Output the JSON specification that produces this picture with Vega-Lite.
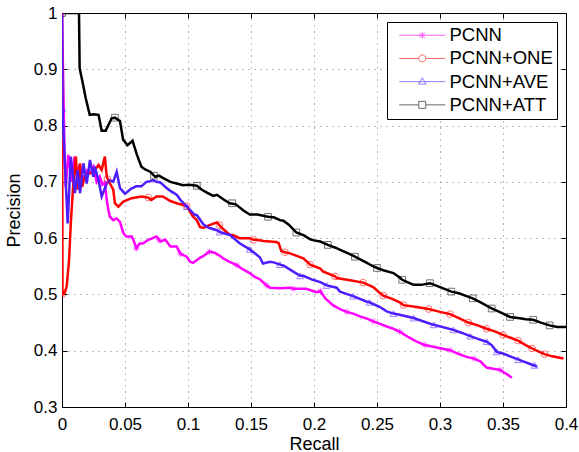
{
  "$schema": "https://vega.github.io/schema/vega-lite/v6.json",
  "width": 504,
  "height": 394,
  "autosize": "none",
  "padding": {"left": 62, "top": 13, "right": 13, "bottom": 45},
  "background": "white",
  "config": {
    "view": {"stroke": "black", "strokeWidth": 1},
    "font": "Liberation Sans",
    "axis": {
      "labelFont": "Liberation Sans",
      "titleFont": "Liberation Sans",
      "labelFontSize": 17,
      "titleFontSize": 18,
      "titleFontWeight": "normal",
      "labelColor": "black",
      "titleColor": "black",
      "domainColor": "black",
      "tickColor": "black",
      "gridColor": "#444",
      "gridOpacity": 0.7,
      "gridDash": [1, 5],
      "gridWidth": 1
    },
    "legend": {
      "orient": "none", "legendX": 325, "legendY": 9,
      "fillColor": "white", "strokeColor": "black", "padding": 4,
      "labelFont": "Liberation Sans", "labelFontSize": 18.5, "labelColor": "black",
      "symbolSize": 64, "symbolStrokeWidth": 1, "symbolOpacity": 0.6,
      "labelOffset": 40, "rowPadding": 4.2, "labelLimit": 300
    }
  },
  "datasets": {
    "pr": [
      {"model": "PCNN", "recall": 0, "precision": 1},
      {"model": "PCNN", "recall": 0.002, "precision": 0.75},
      {"model": "PCNN", "recall": 0.003, "precision": 0.69},
      {"model": "PCNN", "recall": 0.005, "precision": 0.748},
      {"model": "PCNN", "recall": 0.0063, "precision": 0.727},
      {"model": "PCNN", "recall": 0.008, "precision": 0.70},
      {"model": "PCNN", "recall": 0.010, "precision": 0.745},
      {"model": "PCNN", "recall": 0.012, "precision": 0.71},
      {"model": "PCNN", "recall": 0.014, "precision": 0.73},
      {"model": "PCNN", "recall": 0.017, "precision": 0.703},
      {"model": "PCNN", "recall": 0.02, "precision": 0.72},
      {"model": "PCNN", "recall": 0.022, "precision": 0.715},
      {"model": "PCNN", "recall": 0.025, "precision": 0.727},
      {"model": "PCNN", "recall": 0.0275, "precision": 0.70},
      {"model": "PCNN", "recall": 0.030, "precision": 0.709},
      {"model": "PCNN", "recall": 0.032, "precision": 0.695},
      {"model": "PCNN", "recall": 0.034, "precision": 0.698},
      {"model": "PCNN", "recall": 0.0355, "precision": 0.668},
      {"model": "PCNN", "recall": 0.0368, "precision": 0.65},
      {"model": "PCNN", "recall": 0.038, "precision": 0.638},
      {"model": "PCNN", "recall": 0.0407, "precision": 0.632},
      {"model": "PCNN", "recall": 0.0434, "precision": 0.635},
      {"model": "PCNN", "recall": 0.046, "precision": 0.629},
      {"model": "PCNN", "recall": 0.0487, "precision": 0.609},
      {"model": "PCNN", "recall": 0.051, "precision": 0.603},
      {"model": "PCNN", "recall": 0.0553, "precision": 0.603},
      {"model": "PCNN", "recall": 0.0566, "precision": 0.597},
      {"model": "PCNN", "recall": 0.059, "precision": 0.582},
      {"model": "PCNN", "recall": 0.0615, "precision": 0.59},
      {"model": "PCNN", "recall": 0.0645, "precision": 0.591},
      {"model": "PCNN", "recall": 0.0685, "precision": 0.597},
      {"model": "PCNN", "recall": 0.072, "precision": 0.60},
      {"model": "PCNN", "recall": 0.075, "precision": 0.603},
      {"model": "PCNN", "recall": 0.078, "precision": 0.594},
      {"model": "PCNN", "recall": 0.082, "precision": 0.597},
      {"model": "PCNN", "recall": 0.086, "precision": 0.585},
      {"model": "PCNN", "recall": 0.091, "precision": 0.585},
      {"model": "PCNN", "recall": 0.094, "precision": 0.572},
      {"model": "PCNN", "recall": 0.099, "precision": 0.567},
      {"model": "PCNN", "recall": 0.1016, "precision": 0.558},
      {"model": "PCNN", "recall": 0.104, "precision": 0.556},
      {"model": "PCNN", "recall": 0.1095, "precision": 0.565},
      {"model": "PCNN", "recall": 0.112, "precision": 0.568},
      {"model": "PCNN", "recall": 0.117, "precision": 0.576},
      {"model": "PCNN", "recall": 0.121, "precision": 0.574},
      {"model": "PCNN", "recall": 0.125, "precision": 0.569},
      {"model": "PCNN", "recall": 0.128, "precision": 0.564},
      {"model": "PCNN", "recall": 0.133, "precision": 0.558},
      {"model": "PCNN", "recall": 0.1387, "precision": 0.552},
      {"model": "PCNN", "recall": 0.144, "precision": 0.544},
      {"model": "PCNN", "recall": 0.149, "precision": 0.538},
      {"model": "PCNN", "recall": 0.153, "precision": 0.531},
      {"model": "PCNN", "recall": 0.157, "precision": 0.527},
      {"model": "PCNN", "recall": 0.1625, "precision": 0.516},
      {"model": "PCNN", "recall": 0.165, "precision": 0.512},
      {"model": "PCNN", "recall": 0.173, "precision": 0.511},
      {"model": "PCNN", "recall": 0.181, "precision": 0.512},
      {"model": "PCNN", "recall": 0.1836, "precision": 0.510},
      {"model": "PCNN", "recall": 0.194, "precision": 0.510},
      {"model": "PCNN", "recall": 0.202, "precision": 0.504},
      {"model": "PCNN", "recall": 0.205, "precision": 0.506},
      {"model": "PCNN", "recall": 0.209, "precision": 0.493},
      {"model": "PCNN", "recall": 0.215, "precision": 0.481},
      {"model": "PCNN", "recall": 0.2206, "precision": 0.474},
      {"model": "PCNN", "recall": 0.226, "precision": 0.469},
      {"model": "PCNN", "recall": 0.231, "precision": 0.466},
      {"model": "PCNN", "recall": 0.2365, "precision": 0.461},
      {"model": "PCNN", "recall": 0.242, "precision": 0.457},
      {"model": "PCNN", "recall": 0.247, "precision": 0.452},
      {"model": "PCNN", "recall": 0.252, "precision": 0.448},
      {"model": "PCNN", "recall": 0.2577, "precision": 0.443},
      {"model": "PCNN", "recall": 0.263, "precision": 0.439},
      {"model": "PCNN", "recall": 0.268, "precision": 0.434},
      {"model": "PCNN", "recall": 0.275, "precision": 0.424},
      {"model": "PCNN", "recall": 0.2815, "precision": 0.416},
      {"model": "PCNN", "recall": 0.288, "precision": 0.41},
      {"model": "PCNN", "recall": 0.2947, "precision": 0.407},
      {"model": "PCNN", "recall": 0.301, "precision": 0.404},
      {"model": "PCNN", "recall": 0.308, "precision": 0.401},
      {"model": "PCNN", "recall": 0.314, "precision": 0.395},
      {"model": "PCNN", "recall": 0.321, "precision": 0.389},
      {"model": "PCNN", "recall": 0.327, "precision": 0.386},
      {"model": "PCNN", "recall": 0.332, "precision": 0.381},
      {"model": "PCNN", "recall": 0.337, "precision": 0.370},
      {"model": "PCNN", "recall": 0.342, "precision": 0.368},
      {"model": "PCNN", "recall": 0.3476, "precision": 0.366},
      {"model": "PCNN", "recall": 0.354, "precision": 0.357},
      {"model": "PCNN", "recall": 0.357, "precision": 0.352},

      {"model": "PCNN+ONE", "recall": 0, "precision": 1},
      {"model": "PCNN+ONE", "recall": 0.0004, "precision": 0.5},
      {"model": "PCNN+ONE", "recall": 0.002, "precision": 0.502},
      {"model": "PCNN+ONE", "recall": 0.0037, "precision": 0.514},
      {"model": "PCNN+ONE", "recall": 0.0056, "precision": 0.561},
      {"model": "PCNN+ONE", "recall": 0.007, "precision": 0.627},
      {"model": "PCNN+ONE", "recall": 0.009, "precision": 0.698},
      {"model": "PCNN+ONE", "recall": 0.011, "precision": 0.745},
      {"model": "PCNN+ONE", "recall": 0.0124, "precision": 0.686},
      {"model": "PCNN+ONE", "recall": 0.0143, "precision": 0.733},
      {"model": "PCNN+ONE", "recall": 0.016, "precision": 0.691},
      {"model": "PCNN+ONE", "recall": 0.018, "precision": 0.71},
      {"model": "PCNN+ONE", "recall": 0.0196, "precision": 0.715},
      {"model": "PCNN+ONE", "recall": 0.0236, "precision": 0.716},
      {"model": "PCNN+ONE", "recall": 0.026, "precision": 0.721},
      {"model": "PCNN+ONE", "recall": 0.029, "precision": 0.73},
      {"model": "PCNN+ONE", "recall": 0.0315, "precision": 0.721},
      {"model": "PCNN+ONE", "recall": 0.034, "precision": 0.745},
      {"model": "PCNN+ONE", "recall": 0.0355, "precision": 0.709},
      {"model": "PCNN+ONE", "recall": 0.038, "precision": 0.697},
      {"model": "PCNN+ONE", "recall": 0.0407, "precision": 0.686},
      {"model": "PCNN+ONE", "recall": 0.042, "precision": 0.662},
      {"model": "PCNN+ONE", "recall": 0.0447, "precision": 0.656},
      {"model": "PCNN+ONE", "recall": 0.0487, "precision": 0.665},
      {"model": "PCNN+ONE", "recall": 0.0553, "precision": 0.671},
      {"model": "PCNN+ONE", "recall": 0.063, "precision": 0.674},
      {"model": "PCNN+ONE", "recall": 0.0685, "precision": 0.672},
      {"model": "PCNN+ONE", "recall": 0.071, "precision": 0.668},
      {"model": "PCNN+ONE", "recall": 0.075, "precision": 0.674},
      {"model": "PCNN+ONE", "recall": 0.080, "precision": 0.674},
      {"model": "PCNN+ONE", "recall": 0.086, "precision": 0.666},
      {"model": "PCNN+ONE", "recall": 0.091, "precision": 0.662},
      {"model": "PCNN+ONE", "recall": 0.096, "precision": 0.659},
      {"model": "PCNN+ONE", "recall": 0.099, "precision": 0.657},
      {"model": "PCNN+ONE", "recall": 0.104, "precision": 0.638},
      {"model": "PCNN+ONE", "recall": 0.107, "precision": 0.632},
      {"model": "PCNN+ONE", "recall": 0.1095, "precision": 0.620},
      {"model": "PCNN+ONE", "recall": 0.112, "precision": 0.618},
      {"model": "PCNN+ONE", "recall": 0.117, "precision": 0.623},
      {"model": "PCNN+ONE", "recall": 0.123, "precision": 0.628},
      {"model": "PCNN+ONE", "recall": 0.127, "precision": 0.618},
      {"model": "PCNN+ONE", "recall": 0.133, "precision": 0.606},
      {"model": "PCNN+ONE", "recall": 0.136, "precision": 0.605},
      {"model": "PCNN+ONE", "recall": 0.141, "precision": 0.60},
      {"model": "PCNN+ONE", "recall": 0.149, "precision": 0.60},
      {"model": "PCNN+ONE", "recall": 0.152, "precision": 0.597},
      {"model": "PCNN+ONE", "recall": 0.1545, "precision": 0.597},
      {"model": "PCNN+ONE", "recall": 0.160, "precision": 0.595},
      {"model": "PCNN+ONE", "recall": 0.165, "precision": 0.594},
      {"model": "PCNN+ONE", "recall": 0.170, "precision": 0.593},
      {"model": "PCNN+ONE", "recall": 0.172, "precision": 0.591},
      {"model": "PCNN+ONE", "recall": 0.174, "precision": 0.577},
      {"model": "PCNN+ONE", "recall": 0.177, "precision": 0.575},
      {"model": "PCNN+ONE", "recall": 0.181, "precision": 0.573},
      {"model": "PCNN+ONE", "recall": 0.1915, "precision": 0.564},
      {"model": "PCNN+ONE", "recall": 0.197, "precision": 0.553},
      {"model": "PCNN+ONE", "recall": 0.205, "precision": 0.546},
      {"model": "PCNN+ONE", "recall": 0.207, "precision": 0.541},
      {"model": "PCNN+ONE", "recall": 0.2167, "precision": 0.532},
      {"model": "PCNN+ONE", "recall": 0.218, "precision": 0.529},
      {"model": "PCNN+ONE", "recall": 0.2286, "precision": 0.525},
      {"model": "PCNN+ONE", "recall": 0.239, "precision": 0.521},
      {"model": "PCNN+ONE", "recall": 0.247, "precision": 0.513},
      {"model": "PCNN+ONE", "recall": 0.252, "precision": 0.503},
      {"model": "PCNN+ONE", "recall": 0.255, "precision": 0.498},
      {"model": "PCNN+ONE", "recall": 0.262, "precision": 0.492},
      {"model": "PCNN+ONE", "recall": 0.268, "precision": 0.486},
      {"model": "PCNN+ONE", "recall": 0.271, "precision": 0.481},
      {"model": "PCNN+ONE", "recall": 0.28, "precision": 0.478},
      {"model": "PCNN+ONE", "recall": 0.291, "precision": 0.474},
      {"model": "PCNN+ONE", "recall": 0.30, "precision": 0.469},
      {"model": "PCNN+ONE", "recall": 0.308, "precision": 0.465},
      {"model": "PCNN+ONE", "recall": 0.315, "precision": 0.458},
      {"model": "PCNN+ONE", "recall": 0.3225, "precision": 0.45},
      {"model": "PCNN+ONE", "recall": 0.33, "precision": 0.445},
      {"model": "PCNN+ONE", "recall": 0.337, "precision": 0.439},
      {"model": "PCNN+ONE", "recall": 0.344, "precision": 0.434},
      {"model": "PCNN+ONE", "recall": 0.350, "precision": 0.428},
      {"model": "PCNN+ONE", "recall": 0.356, "precision": 0.423},
      {"model": "PCNN+ONE", "recall": 0.362, "precision": 0.418},
      {"model": "PCNN+ONE", "recall": 0.368, "precision": 0.41},
      {"model": "PCNN+ONE", "recall": 0.373, "precision": 0.404},
      {"model": "PCNN+ONE", "recall": 0.378, "precision": 0.399},
      {"model": "PCNN+ONE", "recall": 0.383, "precision": 0.394},
      {"model": "PCNN+ONE", "recall": 0.389, "precision": 0.39},
      {"model": "PCNN+ONE", "recall": 0.398, "precision": 0.386},

      {"model": "PCNN+AVE", "recall": 0, "precision": 1},
      {"model": "PCNN+AVE", "recall": 0.0003, "precision": 0.83},
      {"model": "PCNN+AVE", "recall": 0.0045, "precision": 0.626},
      {"model": "PCNN+AVE", "recall": 0.007, "precision": 0.745},
      {"model": "PCNN+AVE", "recall": 0.0103, "precision": 0.68},
      {"model": "PCNN+AVE", "recall": 0.0124, "precision": 0.721},
      {"model": "PCNN+AVE", "recall": 0.0143, "precision": 0.68},
      {"model": "PCNN+AVE", "recall": 0.017, "precision": 0.733},
      {"model": "PCNN+AVE", "recall": 0.0196, "precision": 0.697},
      {"model": "PCNN+AVE", "recall": 0.0222, "precision": 0.739},
      {"model": "PCNN+AVE", "recall": 0.0249, "precision": 0.709},
      {"model": "PCNN+AVE", "recall": 0.026, "precision": 0.727},
      {"model": "PCNN+AVE", "recall": 0.029, "precision": 0.703},
      {"model": "PCNN+AVE", "recall": 0.0315, "precision": 0.674},
      {"model": "PCNN+AVE", "recall": 0.0355, "precision": 0.697},
      {"model": "PCNN+AVE", "recall": 0.038, "precision": 0.703},
      {"model": "PCNN+AVE", "recall": 0.0407, "precision": 0.70},
      {"model": "PCNN+AVE", "recall": 0.0434, "precision": 0.718},
      {"model": "PCNN+AVE", "recall": 0.046, "precision": 0.689},
      {"model": "PCNN+AVE", "recall": 0.050, "precision": 0.679},
      {"model": "PCNN+AVE", "recall": 0.055, "precision": 0.688},
      {"model": "PCNN+AVE", "recall": 0.059, "precision": 0.692},
      {"model": "PCNN+AVE", "recall": 0.063, "precision": 0.692},
      {"model": "PCNN+AVE", "recall": 0.067, "precision": 0.70},
      {"model": "PCNN+AVE", "recall": 0.070, "precision": 0.701},
      {"model": "PCNN+AVE", "recall": 0.072, "precision": 0.703},
      {"model": "PCNN+AVE", "recall": 0.075, "precision": 0.70},
      {"model": "PCNN+AVE", "recall": 0.078, "precision": 0.699},
      {"model": "PCNN+AVE", "recall": 0.083, "precision": 0.689},
      {"model": "PCNN+AVE", "recall": 0.086, "precision": 0.684},
      {"model": "PCNN+AVE", "recall": 0.091, "precision": 0.677},
      {"model": "PCNN+AVE", "recall": 0.094, "precision": 0.668},
      {"model": "PCNN+AVE", "recall": 0.099, "precision": 0.656},
      {"model": "PCNN+AVE", "recall": 0.1056, "precision": 0.641},
      {"model": "PCNN+AVE", "recall": 0.107, "precision": 0.641},
      {"model": "PCNN+AVE", "recall": 0.112, "precision": 0.625},
      {"model": "PCNN+AVE", "recall": 0.115, "precision": 0.62},
      {"model": "PCNN+AVE", "recall": 0.117, "precision": 0.618},
      {"model": "PCNN+AVE", "recall": 0.123, "precision": 0.614},
      {"model": "PCNN+AVE", "recall": 0.125, "precision": 0.611},
      {"model": "PCNN+AVE", "recall": 0.131, "precision": 0.607},
      {"model": "PCNN+AVE", "recall": 0.133, "precision": 0.606},
      {"model": "PCNN+AVE", "recall": 0.141, "precision": 0.591},
      {"model": "PCNN+AVE", "recall": 0.149, "precision": 0.58},
      {"model": "PCNN+AVE", "recall": 0.153, "precision": 0.573},
      {"model": "PCNN+AVE", "recall": 0.157, "precision": 0.566},
      {"model": "PCNN+AVE", "recall": 0.1595, "precision": 0.555},
      {"model": "PCNN+AVE", "recall": 0.165, "precision": 0.558},
      {"model": "PCNN+AVE", "recall": 0.168, "precision": 0.557},
      {"model": "PCNN+AVE", "recall": 0.173, "precision": 0.553},
      {"model": "PCNN+AVE", "recall": 0.176, "precision": 0.551},
      {"model": "PCNN+AVE", "recall": 0.181, "precision": 0.544},
      {"model": "PCNN+AVE", "recall": 0.189, "precision": 0.533},
      {"model": "PCNN+AVE", "recall": 0.1915, "precision": 0.533},
      {"model": "PCNN+AVE", "recall": 0.199, "precision": 0.526},
      {"model": "PCNN+AVE", "recall": 0.205, "precision": 0.522},
      {"model": "PCNN+AVE", "recall": 0.210, "precision": 0.516},
      {"model": "PCNN+AVE", "recall": 0.218, "precision": 0.512},
      {"model": "PCNN+AVE", "recall": 0.2206, "precision": 0.505},
      {"model": "PCNN+AVE", "recall": 0.231, "precision": 0.497},
      {"model": "PCNN+AVE", "recall": 0.242, "precision": 0.487},
      {"model": "PCNN+AVE", "recall": 0.244, "precision": 0.486},
      {"model": "PCNN+AVE", "recall": 0.252, "precision": 0.478},
      {"model": "PCNN+AVE", "recall": 0.2577, "precision": 0.47},
      {"model": "PCNN+AVE", "recall": 0.263, "precision": 0.466},
      {"model": "PCNN+AVE", "recall": 0.268, "precision": 0.464},
      {"model": "PCNN+AVE", "recall": 0.279, "precision": 0.458},
      {"model": "PCNN+AVE", "recall": 0.287, "precision": 0.452},
      {"model": "PCNN+AVE", "recall": 0.295, "precision": 0.446},
      {"model": "PCNN+AVE", "recall": 0.3106, "precision": 0.437},
      {"model": "PCNN+AVE", "recall": 0.317, "precision": 0.432},
      {"model": "PCNN+AVE", "recall": 0.324, "precision": 0.426},
      {"model": "PCNN+AVE", "recall": 0.330, "precision": 0.421},
      {"model": "PCNN+AVE", "recall": 0.337, "precision": 0.416},
      {"model": "PCNN+AVE", "recall": 0.341, "precision": 0.41},
      {"model": "PCNN+AVE", "recall": 0.345, "precision": 0.398},
      {"model": "PCNN+AVE", "recall": 0.350, "precision": 0.395},
      {"model": "PCNN+AVE", "recall": 0.3556, "precision": 0.39},
      {"model": "PCNN+AVE", "recall": 0.366, "precision": 0.381},
      {"model": "PCNN+AVE", "recall": 0.372, "precision": 0.376},
      {"model": "PCNN+AVE", "recall": 0.377, "precision": 0.372},

      {"model": "PCNN+ATT", "recall": 0, "precision": 1},
      {"model": "PCNN+ATT", "recall": 0.0135, "precision": 1},
      {"model": "PCNN+ATT", "recall": 0.014, "precision": 0.902},
      {"model": "PCNN+ATT", "recall": 0.0165, "precision": 0.875},
      {"model": "PCNN+ATT", "recall": 0.0188, "precision": 0.849},
      {"model": "PCNN+ATT", "recall": 0.022, "precision": 0.819},
      {"model": "PCNN+ATT", "recall": 0.025, "precision": 0.82},
      {"model": "PCNN+ATT", "recall": 0.029, "precision": 0.819},
      {"model": "PCNN+ATT", "recall": 0.0315, "precision": 0.791},
      {"model": "PCNN+ATT", "recall": 0.0347, "precision": 0.791},
      {"model": "PCNN+ATT", "recall": 0.0394, "precision": 0.813},
      {"model": "PCNN+ATT", "recall": 0.042, "precision": 0.814},
      {"model": "PCNN+ATT", "recall": 0.046, "precision": 0.808},
      {"model": "PCNN+ATT", "recall": 0.0485, "precision": 0.775},
      {"model": "PCNN+ATT", "recall": 0.052, "precision": 0.765},
      {"model": "PCNN+ATT", "recall": 0.056, "precision": 0.773},
      {"model": "PCNN+ATT", "recall": 0.0595, "precision": 0.748},
      {"model": "PCNN+ATT", "recall": 0.063, "precision": 0.727},
      {"model": "PCNN+ATT", "recall": 0.066, "precision": 0.722},
      {"model": "PCNN+ATT", "recall": 0.070, "precision": 0.718},
      {"model": "PCNN+ATT", "recall": 0.074, "precision": 0.709},
      {"model": "PCNN+ATT", "recall": 0.077, "precision": 0.711},
      {"model": "PCNN+ATT", "recall": 0.080, "precision": 0.707},
      {"model": "PCNN+ATT", "recall": 0.086, "precision": 0.70},
      {"model": "PCNN+ATT", "recall": 0.091, "precision": 0.697},
      {"model": "PCNN+ATT", "recall": 0.096, "precision": 0.694},
      {"model": "PCNN+ATT", "recall": 0.101, "precision": 0.695},
      {"model": "PCNN+ATT", "recall": 0.107, "precision": 0.693},
      {"model": "PCNN+ATT", "recall": 0.111, "precision": 0.686},
      {"model": "PCNN+ATT", "recall": 0.115, "precision": 0.681},
      {"model": "PCNN+ATT", "recall": 0.120, "precision": 0.675},
      {"model": "PCNN+ATT", "recall": 0.123, "precision": 0.677},
      {"model": "PCNN+ATT", "recall": 0.128, "precision": 0.669},
      {"model": "PCNN+ATT", "recall": 0.133, "precision": 0.662},
      {"model": "PCNN+ATT", "recall": 0.138, "precision": 0.66},
      {"model": "PCNN+ATT", "recall": 0.144, "precision": 0.649},
      {"model": "PCNN+ATT", "recall": 0.149, "precision": 0.642},
      {"model": "PCNN+ATT", "recall": 0.155, "precision": 0.642},
      {"model": "PCNN+ATT", "recall": 0.1635, "precision": 0.638},
      {"model": "PCNN+ATT", "recall": 0.168, "precision": 0.637},
      {"model": "PCNN+ATT", "recall": 0.173, "precision": 0.632},
      {"model": "PCNN+ATT", "recall": 0.1757, "precision": 0.631},
      {"model": "PCNN+ATT", "recall": 0.18, "precision": 0.624},
      {"model": "PCNN+ATT", "recall": 0.186, "precision": 0.61},
      {"model": "PCNN+ATT", "recall": 0.192, "precision": 0.605},
      {"model": "PCNN+ATT", "recall": 0.197, "precision": 0.598},
      {"model": "PCNN+ATT", "recall": 0.2, "precision": 0.596},
      {"model": "PCNN+ATT", "recall": 0.205, "precision": 0.594},
      {"model": "PCNN+ATT", "recall": 0.211, "precision": 0.588},
      {"model": "PCNN+ATT", "recall": 0.217, "precision": 0.583},
      {"model": "PCNN+ATT", "recall": 0.223, "precision": 0.577},
      {"model": "PCNN+ATT", "recall": 0.228, "precision": 0.572},
      {"model": "PCNN+ATT", "recall": 0.2325, "precision": 0.567},
      {"model": "PCNN+ATT", "recall": 0.237, "precision": 0.562},
      {"model": "PCNN+ATT", "recall": 0.242, "precision": 0.556},
      {"model": "PCNN+ATT", "recall": 0.246, "precision": 0.551},
      {"model": "PCNN+ATT", "recall": 0.25, "precision": 0.547},
      {"model": "PCNN+ATT", "recall": 0.255, "precision": 0.543},
      {"model": "PCNN+ATT", "recall": 0.263, "precision": 0.538},
      {"model": "PCNN+ATT", "recall": 0.268, "precision": 0.53},
      {"model": "PCNN+ATT", "recall": 0.27, "precision": 0.526},
      {"model": "PCNN+ATT", "recall": 0.275, "precision": 0.521},
      {"model": "PCNN+ATT", "recall": 0.279, "precision": 0.517},
      {"model": "PCNN+ATT", "recall": 0.285, "precision": 0.517},
      {"model": "PCNN+ATT", "recall": 0.292, "precision": 0.52},
      {"model": "PCNN+ATT", "recall": 0.3, "precision": 0.513},
      {"model": "PCNN+ATT", "recall": 0.309, "precision": 0.505},
      {"model": "PCNN+ATT", "recall": 0.315, "precision": 0.502},
      {"model": "PCNN+ATT", "recall": 0.32, "precision": 0.498},
      {"model": "PCNN+ATT", "recall": 0.326, "precision": 0.493},
      {"model": "PCNN+ATT", "recall": 0.333, "precision": 0.485},
      {"model": "PCNN+ATT", "recall": 0.341, "precision": 0.475},
      {"model": "PCNN+ATT", "recall": 0.348, "precision": 0.468},
      {"model": "PCNN+ATT", "recall": 0.3556, "precision": 0.46},
      {"model": "PCNN+ATT", "recall": 0.362, "precision": 0.458},
      {"model": "PCNN+ATT", "recall": 0.368, "precision": 0.456},
      {"model": "PCNN+ATT", "recall": 0.374, "precision": 0.455},
      {"model": "PCNN+ATT", "recall": 0.38, "precision": 0.45},
      {"model": "PCNN+ATT", "recall": 0.387, "precision": 0.445},
      {"model": "PCNN+ATT", "recall": 0.393, "precision": 0.442},
      {"model": "PCNN+ATT", "recall": 0.4, "precision": 0.442}
    ],
    "mk": [
      {"model": "PCNN", "recall": 0, "precision": 1},
      {"model": "PCNN", "recall": 0.034, "precision": 0.698},
      {"model": "PCNN", "recall": 0.059, "precision": 0.582},
      {"model": "PCNN", "recall": 0.077, "precision": 0.597},
      {"model": "PCNN", "recall": 0.094, "precision": 0.572},
      {"model": "PCNN", "recall": 0.117, "precision": 0.576},
      {"model": "PCNN", "recall": 0.1387, "precision": 0.552},
      {"model": "PCNN", "recall": 0.1625, "precision": 0.516},
      {"model": "PCNN", "recall": 0.1836, "precision": 0.51},
      {"model": "PCNN", "recall": 0.205, "precision": 0.506},
      {"model": "PCNN", "recall": 0.226, "precision": 0.469},
      {"model": "PCNN", "recall": 0.247, "precision": 0.452},
      {"model": "PCNN", "recall": 0.268, "precision": 0.434},
      {"model": "PCNN", "recall": 0.288, "precision": 0.41},
      {"model": "PCNN", "recall": 0.308, "precision": 0.401},
      {"model": "PCNN", "recall": 0.327, "precision": 0.386},
      {"model": "PCNN", "recall": 0.3476, "precision": 0.366},
      {"model": "PCNN+ONE", "recall": 0, "precision": 0.5},
      {"model": "PCNN+ONE", "recall": 0.036, "precision": 0.705},
      {"model": "PCNN+ONE", "recall": 0.0685, "precision": 0.672},
      {"model": "PCNN+ONE", "recall": 0.099, "precision": 0.657},
      {"model": "PCNN+ONE", "recall": 0.125, "precision": 0.623},
      {"model": "PCNN+ONE", "recall": 0.152, "precision": 0.597},
      {"model": "PCNN+ONE", "recall": 0.177, "precision": 0.575},
      {"model": "PCNN+ONE", "recall": 0.197, "precision": 0.553},
      {"model": "PCNN+ONE", "recall": 0.2167, "precision": 0.532},
      {"model": "PCNN+ONE", "recall": 0.239, "precision": 0.521},
      {"model": "PCNN+ONE", "recall": 0.255, "precision": 0.498},
      {"model": "PCNN+ONE", "recall": 0.271, "precision": 0.481},
      {"model": "PCNN+ONE", "recall": 0.291, "precision": 0.474},
      {"model": "PCNN+ONE", "recall": 0.308, "precision": 0.465},
      {"model": "PCNN+ONE", "recall": 0.3225, "precision": 0.45},
      {"model": "PCNN+ONE", "recall": 0.337, "precision": 0.439},
      {"model": "PCNN+ONE", "recall": 0.35, "precision": 0.428},
      {"model": "PCNN+ONE", "recall": 0.362, "precision": 0.418},
      {"model": "PCNN+ONE", "recall": 0.373, "precision": 0.404},
      {"model": "PCNN+ONE", "recall": 0.383, "precision": 0.394},
      {"model": "PCNN+AVE", "recall": 0.0003, "precision": 0.83},
      {"model": "PCNN+AVE", "recall": 0.099, "precision": 0.656},
      {"model": "PCNN+AVE", "recall": 0.125, "precision": 0.611},
      {"model": "PCNN+AVE", "recall": 0.149, "precision": 0.58},
      {"model": "PCNN+AVE", "recall": 0.173, "precision": 0.553},
      {"model": "PCNN+AVE", "recall": 0.189, "precision": 0.533},
      {"model": "PCNN+AVE", "recall": 0.21, "precision": 0.516},
      {"model": "PCNN+AVE", "recall": 0.231, "precision": 0.497},
      {"model": "PCNN+AVE", "recall": 0.244, "precision": 0.486},
      {"model": "PCNN+AVE", "recall": 0.263, "precision": 0.466},
      {"model": "PCNN+AVE", "recall": 0.279, "precision": 0.458},
      {"model": "PCNN+AVE", "recall": 0.295, "precision": 0.446},
      {"model": "PCNN+AVE", "recall": 0.3106, "precision": 0.437},
      {"model": "PCNN+AVE", "recall": 0.324, "precision": 0.426},
      {"model": "PCNN+AVE", "recall": 0.337, "precision": 0.416},
      {"model": "PCNN+AVE", "recall": 0.345, "precision": 0.398},
      {"model": "PCNN+AVE", "recall": 0.362, "precision": 0.384},
      {"model": "PCNN+AVE", "recall": 0.375, "precision": 0.374},
      {"model": "PCNN+ATT", "recall": 0, "precision": 1},
      {"model": "PCNN+ATT", "recall": 0.042, "precision": 0.814},
      {"model": "PCNN+ATT", "recall": 0.073, "precision": 0.711},
      {"model": "PCNN+ATT", "recall": 0.107, "precision": 0.693},
      {"model": "PCNN+ATT", "recall": 0.135, "precision": 0.662},
      {"model": "PCNN+ATT", "recall": 0.1635, "precision": 0.638},
      {"model": "PCNN+ATT", "recall": 0.186, "precision": 0.61},
      {"model": "PCNN+ATT", "recall": 0.211, "precision": 0.588},
      {"model": "PCNN+ATT", "recall": 0.2325, "precision": 0.567},
      {"model": "PCNN+ATT", "recall": 0.25, "precision": 0.547},
      {"model": "PCNN+ATT", "recall": 0.27, "precision": 0.526},
      {"model": "PCNN+ATT", "recall": 0.292, "precision": 0.52},
      {"model": "PCNN+ATT", "recall": 0.309, "precision": 0.505},
      {"model": "PCNN+ATT", "recall": 0.326, "precision": 0.493},
      {"model": "PCNN+ATT", "recall": 0.341, "precision": 0.475},
      {"model": "PCNN+ATT", "recall": 0.3556, "precision": 0.46},
      {"model": "PCNN+ATT", "recall": 0.374, "precision": 0.455},
      {"model": "PCNN+ATT", "recall": 0.387, "precision": 0.445}
    ]
  },
  "layer": [
    {
      "data": {"name": "pr"},
      "mark": {"type": "line", "strokeWidth": 2.5, "clip": true, "interpolate": "linear"},
      "encoding": {
        "x": {
          "field": "recall", "type": "quantitative",
          "scale": {"domain": [0, 0.4], "nice": false, "zero": false},
          "axis": {
            "title": "Recall", "values": [0, 0.05, 0.1, 0.15, 0.2, 0.25, 0.3, 0.35, 0.4],
            "format": ".2~f", "grid": true, "tickSize": -5, "labelPadding": 14,
            "titlePadding": 3, "labelFlush": false, "labelOverlap": false
          }
        },
        "y": {
          "field": "precision", "type": "quantitative",
          "scale": {"domain": [0.3, 1], "nice": false, "zero": false},
          "axis": {
            "title": "Precision", "values": [0.3, 0.4, 0.5, 0.6, 0.7, 0.8, 0.9, 1],
            "format": ".1~f", "grid": true, "tickSize": -5, "labelPadding": 10,
            "titlePadding": 10, "labelFlush": false, "labelOverlap": false
          }
        },
        "color": {
          "field": "model", "type": "nominal",
          "scale": {"domain": ["PCNN", "PCNN+ONE", "PCNN+AVE", "PCNN+ATT"], "range": ["#ff00ff", "#ff0000", "#4d1cff", "#000000"]},
          "legend": {"title": null}
        },
        "order": {"field": "recall", "type": "quantitative"}
      }
    },
    {
      "data": {"name": "mk"},
      "transform": [{"filter": "datum.model === 'PCNN'"}],
      "mark": {"type": "point", "filled": false, "size": 45, "strokeWidth": 1, "opacity": 0.55, "clip": true, "color": "#ff00ff", "shape": "M0,-1V1M-1,0H1M-0.7,-0.7L0.7,0.7M-0.7,0.7L0.7,-0.7"},
      "encoding": {
        "x": {"field": "recall", "type": "quantitative", "axis": null},
        "y": {"field": "precision", "type": "quantitative", "axis": null}
      }
    },
    {
      "data": {"name": "mk"},
      "transform": [{"filter": "datum.model === 'PCNN+ONE'"}],
      "mark": {"type": "point", "filled": false, "size": 45, "strokeWidth": 1, "opacity": 0.55, "clip": true, "color": "#ff0000", "shape": "circle"},
      "encoding": {
        "x": {"field": "recall", "type": "quantitative", "axis": null},
        "y": {"field": "precision", "type": "quantitative", "axis": null}
      }
    },
    {
      "data": {"name": "mk"},
      "transform": [{"filter": "datum.model === 'PCNN+AVE'"}],
      "mark": {"type": "point", "filled": false, "size": 45, "strokeWidth": 1, "opacity": 0.55, "clip": true, "color": "#4d1cff", "shape": "triangle-up"},
      "encoding": {
        "x": {"field": "recall", "type": "quantitative", "axis": null},
        "y": {"field": "precision", "type": "quantitative", "axis": null}
      }
    },
    {
      "data": {"name": "mk"},
      "transform": [{"filter": "datum.model === 'PCNN+ATT'"}],
      "mark": {"type": "point", "filled": false, "size": 45, "strokeWidth": 1, "opacity": 0.55, "clip": true, "color": "#000000", "shape": "square"},
      "encoding": {
        "x": {"field": "recall", "type": "quantitative", "axis": null},
        "y": {"field": "precision", "type": "quantitative", "axis": null}
      }
    },
    {
      "data": {"name": "mk"},
      "transform": [{"filter": "false"}],
      "mark": {"type": "point", "filled": false, "strokeWidth": 1, "opacity": 0.6, "clip": true},
      "encoding": {
        "x": {
          "field": "recall", "type": "quantitative",
          "axis": {"orient": "top", "title": null, "labels": false, "grid": false, "tickSize": -5, "values": [0, 0.05, 0.1, 0.15, 0.2, 0.25, 0.3, 0.35, 0.4]}
        },
        "y": {
          "field": "precision", "type": "quantitative",
          "axis": {"orient": "right", "title": null, "labels": false, "grid": false, "tickSize": -5, "values": [0.3, 0.4, 0.5, 0.6, 0.7, 0.8, 0.9, 1]}
        },
        "color": {"field": "model", "type": "nominal", "legend": {"title": null}},
        "shape": {
          "field": "model", "type": "nominal",
          "scale": {
            "domain": ["PCNN", "PCNN+ONE", "PCNN+AVE", "PCNN+ATT"],
            "range": [
              "M-0.25,0H11.25M5.5,-0.9V0.9M4.6,0H6.4M4.85,-0.65L6.15,0.65M4.85,0.65L6.15,-0.65",
              "M-0.25,0H4.625M6.375,0H11.25M6.375,0A0.875,0.875 0 1,1 4.625,0A0.875,0.875 0 1,1 6.375,0",
              "M-0.25,0H11.25M5.5,-1L6.45,0.6H4.55Z",
              "M-0.25,0H4.625M6.375,0H11.25M4.625,-0.875H6.375V0.875H4.625Z"
            ]
          },
          "legend": {"title": null}
        }
      }
    }
  ],
  "resolve": {"axis": {"x": "independent", "y": "independent"}}
}
